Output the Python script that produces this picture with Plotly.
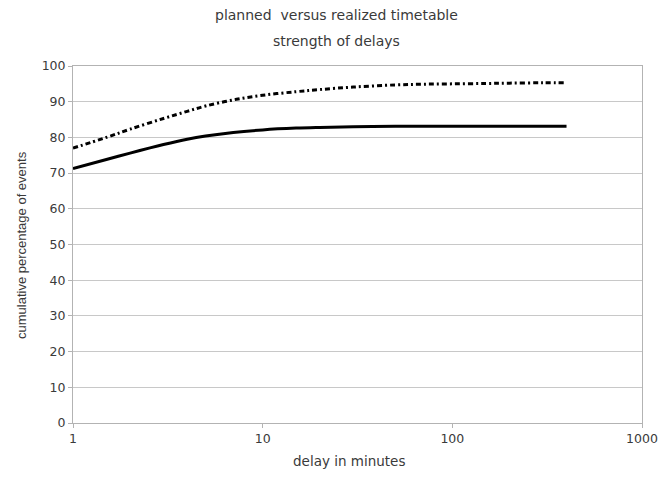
import plotly.graph_objects as go

delay_minutes = [1, 1.5, 2, 3, 4, 5, 7, 10, 15, 20, 30, 50, 70, 100, 150, 200, 300, 400]
planned_pct = [77.0, 80.0, 82.3, 85.3, 87.3, 88.8, 90.5, 91.8, 92.8, 93.4, 94.1, 94.7, 94.9, 95.0, 95.1, 95.2, 95.3, 95.3]
realized_pct = [71.3, 73.8, 75.6, 78.0, 79.5, 80.4, 81.4, 82.1, 82.6, 82.8, 83.0, 83.1, 83.1, 83.1, 83.1, 83.1, 83.1, 83.1]

x_tickvals = [1, 10, 100, 1000]
x_ticktext = ["1", "10", "100", "1000"]
y_tickvals = list(range(0, 101, 10))

title_lines = ["planned  versus realized timetable", "strength of delays"]
x_title = "delay in minutes"
y_title = "cumulative percentage of events"

WIDE = "DejaVu Sans, Verdana, sans-serif"
NARROW = "Liberation Sans, Arial, sans-serif"
TXT = "#3a3a3a"

W, H = 660, 478
# plot box in page pixels: left 73, right 642, top 66, bottom 423
L, T = 73, 66
R = W - 642
B = H - 423
PW, PH = W - L - R, H - T - B


def px_x(xp):
    return (xp - L) / PW


def px_y(yp):
    return (H - B - yp) / PH


fig = go.Figure()
fig.add_trace(go.Scatter(
    x=delay_minutes, y=planned_pct, mode="lines",
    line=dict(color="black", width=3, dash="5px,3px,2px,3px", shape="spline"),
    showlegend=False, hoverinfo="skip",
))
fig.add_trace(go.Scatter(
    x=delay_minutes, y=realized_pct, mode="lines",
    line=dict(color="black", width=3, shape="spline"),
    showlegend=False, hoverinfo="skip",
))

fig.update_layout(
    width=W, height=H,
    margin=dict(l=L, r=R, t=T, b=B, autoexpand=False),
    paper_bgcolor="white", plot_bgcolor="white",
    font=dict(family=WIDE, color=TXT, size=12),
)

fig.add_annotation(text=title_lines[0], xref="paper", yref="paper",
                   x=px_x(336), y=px_y(15), showarrow=False,
                   font=dict(family=WIDE, size=14, color=TXT),
                   xanchor="center", yanchor="middle")
fig.add_annotation(text=title_lines[1], xref="paper", yref="paper",
                   x=px_x(336), y=px_y(41), showarrow=False,
                   font=dict(family=WIDE, size=14, color=TXT),
                   xanchor="center", yanchor="middle")
fig.add_annotation(text=x_title, xref="paper", yref="paper",
                   x=px_x(349), y=px_y(461), showarrow=False,
                   font=dict(family=WIDE, size=13.5, color=TXT),
                   xanchor="center", yanchor="middle")
fig.add_annotation(text=y_title, xref="paper", yref="paper",
                   x=px_x(21), y=px_y(245), showarrow=False, textangle=-90,
                   font=dict(family=NARROW, size=13, color=TXT),
                   xanchor="center", yanchor="middle")

fig.update_xaxes(
    type="log", range=[0, 3], automargin=False,
    tickvals=x_tickvals, ticktext=x_ticktext,
    ticks="outside", ticklen=4, tickcolor="#b3b3b3",
    showline=True, linecolor="#b3b3b3", linewidth=1, mirror=True,
    showgrid=False, zeroline=False,
    tickfont=dict(family=WIDE, size=12.5, color=TXT),
)
fig.update_yaxes(
    range=[0, 100], tickvals=y_tickvals, automargin=False,
    ticks="outside", ticklen=4, tickcolor="#b3b3b3",
    showline=True, linecolor="#b3b3b3", linewidth=1, mirror=True,
    showgrid=True, gridcolor="#c8c8c8", gridwidth=1, zeroline=False,
    tickfont=dict(family=WIDE, size=12.5, color=TXT),
)

fig.write_html(
    "out.html",
    config={"displayModeBar": False, "staticPlot": True},
    post_script="document.body.style.margin='0';document.body.style.overflow='hidden';",
)
